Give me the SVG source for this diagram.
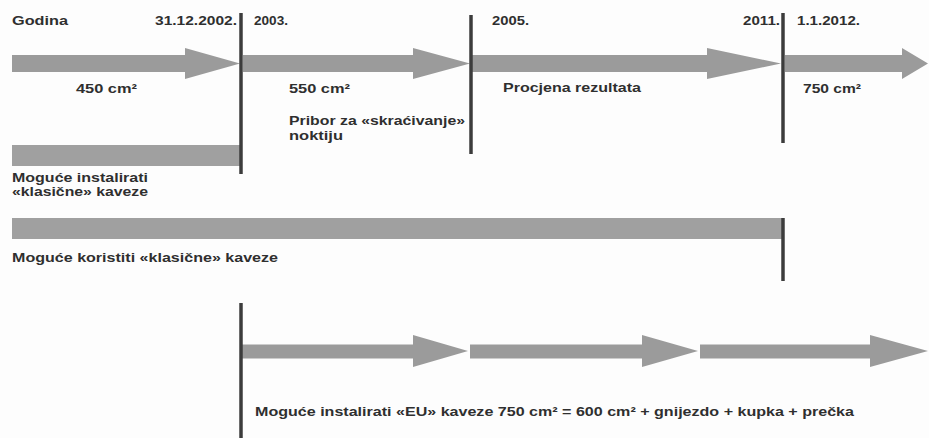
<svg xmlns="http://www.w3.org/2000/svg" width="929" height="438" viewBox="0 0 929 438">
<style>
.bg{fill:#fdfdfd}
.arrow{fill:#9b9b9b}
.bar{fill:#a0a0a0}
.div{stroke:#3c3c3c;stroke-width:3.5;fill:none}
text{font-family:"Liberation Sans",Arial,sans-serif;font-weight:bold;font-size:13px;fill:#2f2f2f}
</style>
<rect class="bg" x="0" y="0" width="929" height="438"/>
<g id="timeline-top">
<polygon id="arrow-1" class="arrow" points="12,55 185,55 185,48 240,63.5 185,79 185,72 12,72"/>
<polygon id="arrow-2" class="arrow" points="243,55 413,55 413,48 470,63.5 413,79 413,72 243,72"/>
<polygon id="arrow-3" class="arrow" points="472,55 707,55 707,48 781,63.5 707,79 707,72 472,72"/>
<polygon id="arrow-4" class="arrow" points="785,55 902,55 902,48 928,63.5 902,79 902,72 785,72"/>
</g>
<g id="bar-install-classic"><rect class="bar" x="12" y="145" width="229" height="21"/></g>
<g id="bar-use-classic"><rect class="bar" x="12" y="218" width="771" height="21"/></g>
<g id="timeline-eu">
<polygon id="arrow-eu-1" class="arrow" points="242,344.5 413,344.5 413,335 468,351 413,367 413,358.5 242,358.5"/>
<polygon id="arrow-eu-2" class="arrow" points="470,344.5 642,344.5 642,335 698,351 642,367 642,358.5 470,358.5"/>
<polygon id="arrow-eu-3" class="arrow" points="700,344.5 870,344.5 870,335 928,351 870,367 870,358.5 700,358.5"/>
</g>
<g id="connectors">
<line class="div" x1="241" y1="13" x2="241" y2="174"/>
<line class="div" x1="471" y1="15" x2="471" y2="154"/>
<line class="div" x1="783" y1="13" x2="783" y2="143"/>
<line class="div" x1="783" y1="218" x2="783" y2="281"/>
<line class="div" x1="241" y1="303" x2="241" y2="438"/>
</g>
<g id="labels">
<text x="12" y="25" textLength="56" lengthAdjust="spacingAndGlyphs">Godina</text>
<text x="155" y="25" textLength="82" lengthAdjust="spacingAndGlyphs">31.12.2002.</text>
<text x="254" y="25" textLength="34" lengthAdjust="spacingAndGlyphs">2003.</text>
<text x="492" y="25" textLength="37" lengthAdjust="spacingAndGlyphs">2005.</text>
<text x="743" y="25" textLength="37" lengthAdjust="spacingAndGlyphs">2011.</text>
<text x="797" y="25" textLength="63" lengthAdjust="spacingAndGlyphs">1.1.2012.</text>
<text x="76" y="92.5" textLength="61" lengthAdjust="spacingAndGlyphs">450 cm²</text>
<text x="289" y="92.5" textLength="61" lengthAdjust="spacingAndGlyphs">550 cm²</text>
<text x="503" y="92" textLength="138" lengthAdjust="spacingAndGlyphs">Procjena rezultata</text>
<text x="803" y="92.5" textLength="58" lengthAdjust="spacingAndGlyphs">750 cm²</text>
<text x="289" y="125" textLength="176" lengthAdjust="spacingAndGlyphs">Pribor za «skraćivanje»</text>
<text x="289" y="140" textLength="54" lengthAdjust="spacingAndGlyphs">noktiju</text>
<text x="12" y="182" textLength="136" lengthAdjust="spacingAndGlyphs">Moguće instalirati</text>
<text x="12" y="195.5" textLength="136" lengthAdjust="spacingAndGlyphs">«klasične» kaveze</text>
<text x="12" y="262" textLength="266" lengthAdjust="spacingAndGlyphs">Moguće koristiti «klasične» kaveze</text>
<text x="255" y="416" textLength="599" lengthAdjust="spacingAndGlyphs">Moguće instalirati «EU» kaveze 750 cm² = 600 cm² + gnijezdo + kupka + prečka</text>
</g>
</svg>
